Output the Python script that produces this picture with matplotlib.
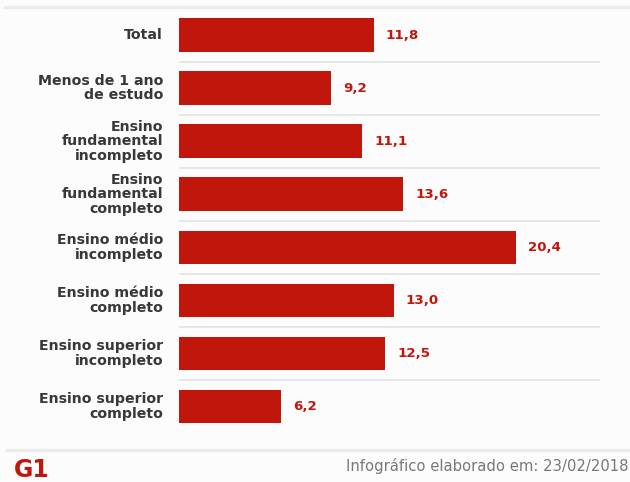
import matplotlib
matplotlib.use("Agg")
import matplotlib.pyplot as plt
from matplotlib.lines import Line2D

categories = [
    "Total",
    "Menos de 1 ano\nde estudo",
    "Ensino\nfundamental\nincompleto",
    "Ensino\nfundamental\ncompleto",
    "Ensino médio\nincompleto",
    "Ensino médio\ncompleto",
    "Ensino superior\nincompleto",
    "Ensino superior\ncompleto",
]
values = [11.8, 9.2, 11.1, 13.6, 20.4, 13.0, 12.5, 6.2]
value_labels = ["11,8", "9,2", "11,1", "13,6", "20,4", "13,0", "12,5", "6,2"]
footer_text = "Infográfico elaborado em: 23/02/2018"
logo_text = "G1"

W, H = 630, 482
BAR_COLOR = "#c1160c"
LABEL_COLOR = "#383838"
BG = "#fcfcfc"

plt.rcParams["font.family"] = ["DejaVu Sans"]

fig = plt.figure(figsize=(W / 100, H / 100), dpi=100, facecolor=BG)

# axes in pixel space: bars start at x=179, rows centred from y=35 to y=406.5
row_step = 53.07
top_px = 35 - row_step / 2
bot_px = 406.5 + row_step / 2
left_px, right_px = 179, 600
ax = fig.add_axes([left_px / W, 1 - bot_px / H, (right_px - left_px) / W, (bot_px - top_px) / H])
ax.set_facecolor(BG)
px_per_unit = 16.5
ax.set_xlim(0, (right_px - left_px) / px_per_unit)
n = len(categories)
ax.set_ylim(n - 0.5, -0.5)

ypos = list(range(n))
ax.barh(ypos, values, height=0.63, color=BAR_COLOR, zorder=2)

for y, v, lab in zip(ypos, values, value_labels):
    ax.text(v + 12 / px_per_unit, y, lab, color=BAR_COLOR, fontsize=9.6,
            fontweight="bold", va="center", ha="left")

for y, cat in zip(ypos, categories):
    ax.text(-16 / px_per_unit, y, cat, color=LABEL_COLOR, fontsize=10.2,
            fontweight="bold", va="center", ha="right", linespacing=1.05,
            clip_on=False)

# separators between rows
for i in range(n - 1):
    ax.axhline(i + 0.5, xmin=0, xmax=1, color="#e2e2e2", lw=1.2, zorder=1)

ax.set_xticks([])
ax.set_yticks([])
for s in ax.spines.values():
    s.set_visible(False)

# top and bottom rules across the figure
fig.add_artist(Line2D([5 / W, 1], [1 - 7 / H, 1 - 7 / H], color="#ececec", lw=2.5))
fig.add_artist(Line2D([7 / W, 1], [1 - 450 / H, 1 - 450 / H], color="#ececec", lw=2.5))

fig.text(14 / W, 1 - 470 / H, logo_text, color=BAR_COLOR, fontsize=17,
         fontweight="heavy", va="center", ha="left")
fig.text(628 / W, 1 - 466 / H, footer_text, color="#777777", fontsize=10.6,
         va="center", ha="right")

fig.savefig("out.png", dpi=100, facecolor=BG)
